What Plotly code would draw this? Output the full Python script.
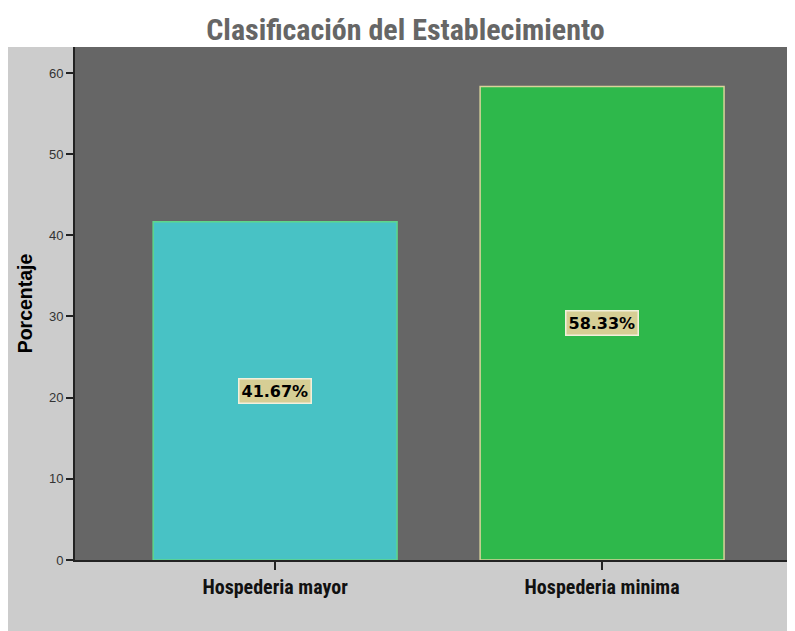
import plotly.graph_objects as go

categorias = ['Hospederia mayor', 'Hospederia minima']
porcentajes = [41.67, 58.33]
etiquetas = ['41.67%', '58.33%']
colores = ['#48C2C5', '#2EB84B']
bordes = ['#5ED68A', '#D8D49A']
y_ticks = [0, 10, 20, 30, 40, 50, 60]

NARROW = 'Liberation Sans Narrow, Arial Narrow, Roboto Condensed, sans-serif'
SANS = 'Liberation Sans, Arial, sans-serif'

fig = go.Figure()
fig.add_trace(go.Bar(
    x=categorias,
    y=porcentajes,
    width=0.746,
    marker=dict(color=colores, line=dict(color=bordes, width=1.5)),
    hoverinfo='skip',
    showlegend=False
))

for cat, val, txt in zip(categorias, porcentajes, etiquetas):
    fig.add_annotation(
        x=cat, y=val / 2, text='<b>' + txt + '</b>',
        showarrow=False,
        font=dict(family='DejaVu Sans, sans-serif', size=16, color='#000000'),
        bgcolor='#D6CE95', bordercolor='#F2F0DC', borderwidth=1.5, borderpad=2
    )

# gray panel and dark plot area (page body has an 8px margin)
fig.add_shape(type='rect', xref='paper', yref='paper',
              x0=-67 / 720, x1=1.0, y0=-71 / 513, y1=1.0,
              fillcolor='#CCCCCC', line_width=0, layer='below')
fig.add_shape(type='rect', xref='paper', yref='paper',
              x0=0, x1=1.0, y0=0, y1=1.0,
              fillcolor='#666666', line_width=0, layer='below')

fig.update_layout(
    width=787, height=623,
    margin=dict(l=67, r=0, t=39, b=71),
    paper_bgcolor='#FFFFFF',
    plot_bgcolor='#666666',
    title=dict(text='<b>Clasificación del Establecimiento</b>', x=0.505, xanchor='center',
               y=0.966, yanchor='middle',
               font=dict(family=NARROW, size=30, color='#666666')),
    bargap=0.25,
)
fig.update_xaxes(
    range=[-0.612, 1.59], automargin=False,
    showline=True, linecolor='#222222', linewidth=2,
    ticks='outside', ticklen=8, tickcolor='#222222', tickwidth=1.5,
    tickfont=dict(family=NARROW, size=20, color='#111111'),
    tickprefix='<b>', ticksuffix='</b>',
    showgrid=False
)
fig.update_yaxes(
    range=[0, 63.2], automargin=False,
    tickvals=y_ticks,
    showline=True, linecolor='#222222', linewidth=2,
    ticks='outside', ticklen=7, tickcolor='#222222', tickwidth=1.5,
    tickfont=dict(family=SANS, size=13, color='#333333'),
    showgrid=False, zeroline=False,
    title=dict(text='<b>Porcentaje</b>', standoff=11,
               font=dict(family=SANS, size=19.5, color='#000000'))
)

fig.write_html('out.html')
